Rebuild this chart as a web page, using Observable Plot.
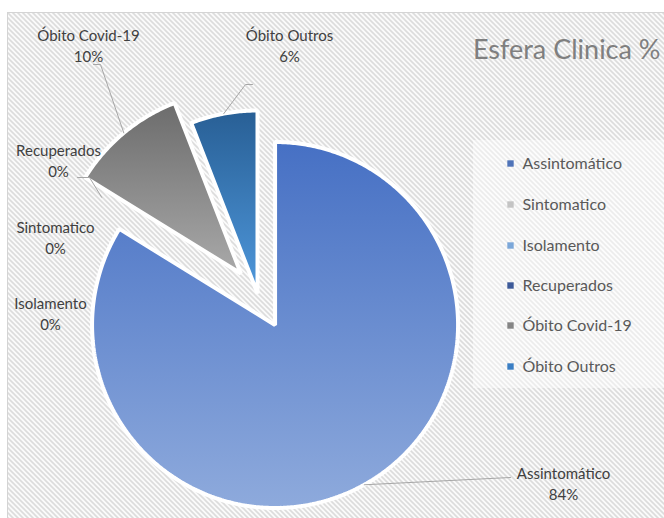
<!DOCTYPE html>
<html>
<head>
<meta charset="utf-8">
<script src="https://cdn.jsdelivr.net/npm/d3@7"></script>
<script src="https://cdn.jsdelivr.net/npm/@observablehq/plot@0.6"></script>
<style>
  html, body { margin: 0; padding: 0; background: #ffffff; }
  #chart { position: relative; width: 664px; height: 518px; overflow: hidden; }
</style>
</head>
<body>
<div id="chart"></div>
<script>
// ---------- data ----------
const categories = ["Assintomático", "Sintomatico", "Isolamento", "Recuperados", "Óbito Covid-19", "Óbito Outros"];
const values = [83.8, 0, 0, 0, 10.3, 5.9];
const title = "Esfera Clinica %";

// ---------- style / layout ----------
const legendColors = ["#4f73b8", "#c4c4c4", "#7ba7d9", "#3d5a99", "#858585", "#3a7ec4"];
const gradients = [
  ["#4670c4", "#8eaadc"],
  ["#a5a5a5", "#c8c8c8"],
  ["#8db4e2", "#b5cdee"],
  ["#264478", "#4a6aa8"],
  ["#6c6c6c", "#a9a9a9"],
  ["#285f95", "#4f98dc"]
];
const explode = [0.197, 0, 0, 0, 0.142, 0];
const W = 664, H = 518, R = 183, CX = 257, CY = 293;
const ux = px => (px - CX) / R;
const uy = py => (CY - py) / R;
// label anchors (pixel layout) and leader elbows
const labelLayout = [
  {x: 563, y: 482, leader: [[510, 477]]},
  {x: 55,  y: 236, leader: null},
  {x: 50,  y: 312, leader: null},
  {x: 58,  y: 159, leader: [[77, 177], [89, 177]]},
  {x: 88,  y: 44,  leader: [[93, 64], [100, 64]]},
  {x: 289, y: 44,  leader: [[252, 84], [245, 84]]}
];
const legendRowsY = [163, 204, 245, 285, 325, 366];

// ---------- geometry from data ----------
const arcs = d3.pie().sort(null).startAngle(0).endAngle(2 * Math.PI)(values);
const slicePts = [];
const midPts = [];
arcs.forEach((a, i) => {
  const m = (a.startAngle + a.endAngle) / 2;
  const o = explode[i];
  const cx = o * Math.sin(m), cy = o * Math.cos(m);
  midPts.push({name: categories[i], x: cx + Math.sin(m), y: cy + Math.cos(m)});
  if (a.endAngle - a.startAngle <= 0) return;
  slicePts.push({name: categories[i], x: cx, y: cy});
  const n = Math.max(2, Math.ceil((a.endAngle - a.startAngle) / 0.01));
  for (let k = 0; k <= n; k++) {
    const t = a.startAngle + (a.endAngle - a.startAngle) * k / n;
    slicePts.push({name: categories[i], x: cx + Math.sin(t), y: cy + Math.cos(t)});
  }
});

const labels = categories.map((c, i) => ({
  name: c,
  text: `${c}\n${Math.round(values[i])}%`,
  x: ux(labelLayout[i].x),
  y: uy(labelLayout[i].y)
}));

const leaders = [];
categories.forEach((c, i) => {
  const L = labelLayout[i].leader;
  if (!L) return;
  L.forEach(p => leaders.push({name: c, x: ux(p[0]), y: uy(p[1])}));
  leaders.push({name: c, x: midPts[i].x, y: midPts[i].y});
});

const legend = categories.map((c, i) => ({name: c, color: legendColors[i], x: ux(510), y: uy(legendRowsY[i])}));

const fontFam = "Lato, 'Open Sans', sans-serif";

const sliceMarks = categories.map((c, i) =>
  Plot.line(slicePts.filter(d => d.name === c), {
    x: "x", y: "y", curve: "linear-closed",
    fill: `url(#grad${i})`, stroke: "white", strokeWidth: 4, strokeLinejoin: "miter"
  })
);

const plot = Plot.plot({
  width: W, height: H, margin: 0,
  style: {background: "transparent", fontFamily: fontFam},
  x: {domain: [ux(0), ux(W)], axis: null},
  y: {domain: [uy(H), uy(0)], axis: null},
  marks: [
    ...sliceMarks,
    Plot.line(leaders, {x: "x", y: "y", z: "name", stroke: "#a6a6a6", strokeWidth: 1}),
    Plot.text(labels, {x: "x", y: "y", text: "text", fill: "#404040", fontSize: 15, lineHeight: 1.45, textAnchor: "middle"}),
    Plot.dot(legend, {x: "x", y: "y", symbol: "square", r: 3.6, fill: "color"}),
    Plot.text(legend, {x: d => d.x + 12 / R, y: "y", text: "name", fill: "#595959", fontSize: 16, textAnchor: "start", style: "letter-spacing:1.3px"}),
    Plot.text([title], {x: ux(660), y: uy(50), text: d => d, fill: "#7f7f7f", fontSize: 27, textAnchor: "end"})
  ]
});

// decorative background and gradient definitions
const svg = d3.select(plot);
const defs = svg.insert("defs", ":first-child");
const pat = defs.append("pattern").attr("id", "hatch").attr("patternUnits", "userSpaceOnUse")
  .attr("width", 5).attr("height", 5);
pat.append("rect").attr("width", 5).attr("height", 5).attr("fill", "#fbfbfb");
pat.append("path").attr("d", "M0,0L5,5M-1,4L1,6M4,-1L6,1").attr("stroke", "#dcdcdc").attr("stroke-width", 1.6);
gradients.forEach((g, i) => {
  const lg = defs.append("linearGradient").attr("id", `grad${i}`).attr("x1", 0).attr("y1", 0).attr("x2", 0).attr("y2", 1);
  lg.append("stop").attr("offset", "0%").attr("stop-color", g[0]);
  lg.append("stop").attr("offset", "100%").attr("stop-color", g[1]);
});
const bg = svg.insert("g", "defs + *");
bg.append("rect").attr("x", 7.5).attr("y", 12.5).attr("width", 700).attr("height", 600)
  .attr("fill", "url(#hatch)").attr("stroke", "#d4d4d4");
bg.append("rect").attr("x", 473).attr("y", 140).attr("width", 200).attr("height", 248)
  .attr("fill", "#ffffff").attr("fill-opacity", 0.45);

document.getElementById("chart").appendChild(plot);
</script>
</body>
</html>
